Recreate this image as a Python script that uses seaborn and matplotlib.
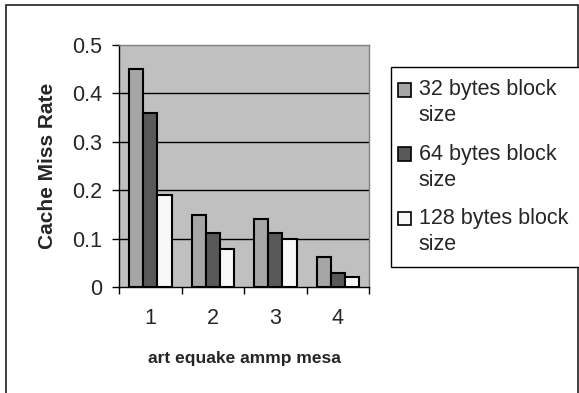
import matplotlib
matplotlib.use("Agg")
import matplotlib.pyplot as plt
import seaborn as sns
import pandas as pd
from matplotlib.patches import Rectangle
from matplotlib.legend_handler import HandlerPatch

categories = ["1", "2", "3", "4"]
series_names = ["32 bytes block\nsize", "64 bytes block\nsize", "128 bytes block\nsize"]
vals_32 = [0.45, 0.149, 0.14, 0.061]
vals_64 = [0.359, 0.111, 0.111, 0.028]
vals_128 = [0.19, 0.078, 0.099, 0.02]
yticks = [0, 0.1, 0.2, 0.3, 0.4, 0.5]
ytick_labels = ["0", "0.1", "0.2", "0.3", "0.4", "0.5"]
colors = ["#A6A6A6", "#595959", "#F8F8F8"]

rows = []
for name, vals in zip(series_names, [vals_32, vals_64, vals_128]):
    for c, v in zip(categories, vals):
        rows.append({"cat": c, "rate": v, "series": name})
df = pd.DataFrame(rows)

sns.set_theme(style="white")
plt.rcParams["font.family"] = ["Liberation Sans", "DejaVu Sans"]

fig = plt.figure(figsize=(5.79, 3.93), dpi=100)
ax = fig.add_axes([119 / 579, 1 - 287 / 393, 250 / 579, 242 / 393])
ax.set_facecolor("#C0C0C0")

sns.barplot(data=df, x="cat", y="rate", hue="series", order=categories,
            hue_order=series_names, palette=colors, edgecolor="black",
            linewidth=1.5, width=0.68, gap=0, ax=ax, zorder=3)

ax.set_ylim(0, 0.5)
ax.set_xlim(-0.5, 3.5)
ax.set_yticks(yticks)
ax.set_yticklabels(ytick_labels, fontsize=15.5)
for y in yticks[1:-1]:
    ax.axhline(y, color="black", linewidth=1, zorder=1)

ax.set_xticks(range(4))
ax.set_xticklabels(categories, fontsize=15.5)
ax.set_xticks([-0.5, 0.5, 1.5, 2.5, 3.5], minor=True)
ax.tick_params(axis="x", which="major", length=0, pad=15)
ax.tick_params(axis="x", which="minor", length=5, width=1, color="black", direction="out", bottom=True)
ax.tick_params(axis="y", length=5, width=1, color="black", direction="out", left=True, pad=7)

ax.set_xlabel("art equake ammp mesa", fontsize=12.5, fontweight="bold", labelpad=16)
ax.set_ylabel("Cache Miss Rate", fontsize=15, fontweight="bold", labelpad=11)

for s in ["left", "bottom"]:
    ax.spines[s].set_color("black")
    ax.spines[s].set_linewidth(1)
for s in ["top", "right"]:
    ax.spines[s].set_color("#808080")
    ax.spines[s].set_linewidth(1)


def top_square(legend, orig_handle, xdescent, ydescent, width, height, fontsize):
    yshift = 0.62 * fontsize
    xshift = -0.24 * fontsize
    return Rectangle((-xdescent + xshift, -ydescent + yshift), width, height)


old = ax.get_legend()
handles = old.legend_handles
old.remove()
leg = fig.legend(handles, series_names, loc="upper left",
                 bbox_to_anchor=(391 / 579, 1 - 67 / 393),
                 fontsize=15.5, frameon=True, fancybox=False, shadow=False,
                 edgecolor="black", framealpha=1, borderaxespad=0,
                 handlelength=0.6, handleheight=0.6, handletextpad=0.12,
                 labelspacing=0.8, borderpad=0.57,
                 handler_map={Rectangle: HandlerPatch(patch_func=top_square)})
leg.get_frame().set_linewidth(1)
for t in leg.get_texts():
    t.set_linespacing(1.32)
for h in leg.legend_handles:
    h.set_edgecolor("black")
    h.set_linewidth(1.2)

fig.patches.append(Rectangle((6 / 579, -0.1), 572 / 579, 1.1 - 5 / 393,
                             transform=fig.transFigure, fill=False,
                             edgecolor="#202020", linewidth=1.2))

fig.savefig("out.png", dpi=100)
